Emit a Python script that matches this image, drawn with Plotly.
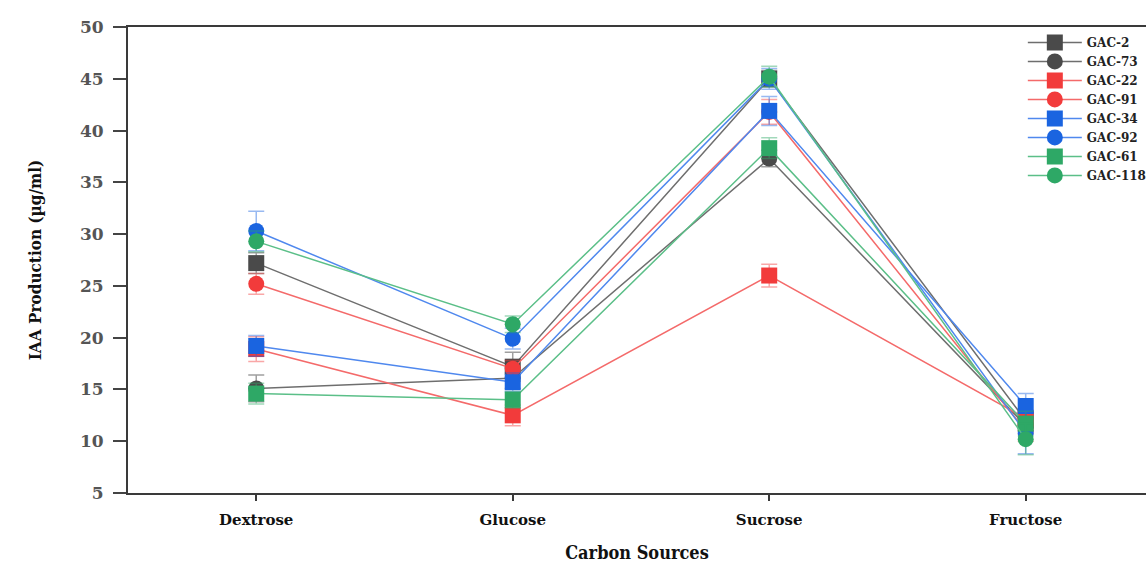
import plotly.graph_objects as go

categories = ["Dextrose", "Glucose", "Sucrose", "Fructose"]
series_names = ["GAC-2", "GAC-73", "GAC-22", "GAC-91", "GAC-34", "GAC-92", "GAC-61", "GAC-118"]

gac2 = [27.2, 17.2, 45.0, 12.0]
gac73 = [15.1, 16.1, 37.3, 11.5]
gac22 = [18.9, 12.5, 26.0, 12.2]
gac91 = [25.2, 17.0, 41.8, 11.0]
gac34 = [19.2, 15.7, 41.9, 13.4]
gac92 = [30.3, 19.9, 45.0, 10.8]
gac61 = [14.6, 14.0, 38.3, 11.7]
gac118 = [29.3, 21.3, 45.2, 10.2]

err2 = [1.0, 1.4, 0.8, 0.8]
err73 = [1.3, 1.0, 0.8, 0.8]
err22 = [1.2, 1.0, 1.1, 0.8]
err91 = [1.0, 0.8, 1.2, 1.0]
err34 = [1.0, 0.9, 1.4, 1.2]
err92 = [1.9, 1.0, 1.0, 2.0]
err61 = [1.0, 0.8, 1.0, 1.2]
err118 = [1.0, 0.8, 1.0, 1.5]

values = [gac2, gac73, gac22, gac91, gac34, gac92, gac61, gac118]
errors = [err2, err73, err22, err91, err34, err92, err61, err118]

marker_colors = {"gray": "#4a4a4a", "red": "#f23b3b", "blue": "#1a64e0", "green": "#2ea866"}
line_colors = {"gray": "#6e6e6e", "red": "#f46a6a", "blue": "#4f88ee", "green": "#5bbf88"}
err_colors = {"gray": "rgba(80,80,80,0.55)", "red": "rgba(242,59,59,0.45)",
              "blue": "rgba(26,100,224,0.45)", "green": "rgba(46,168,102,0.45)"}
color_keys = ["gray", "gray", "red", "red", "blue", "blue", "green", "green"]
symbols = ["square", "circle"] * 4

fig = go.Figure()
for name, vals, errs, ck, sym in zip(series_names, values, errors, color_keys, symbols):
    fig.add_trace(go.Scatter(
        x=list(range(len(categories))), y=vals, name=name, mode="lines+markers",
        line=dict(color=line_colors[ck], width=1.5),
        marker=dict(symbol=sym, size=16, color=marker_colors[ck], line=dict(width=0)),
        error_y=dict(type="data", array=errs, visible=True, color=err_colors[ck],
                     thickness=1.5, width=8),
    ))

serif = "DejaVu Serif"
fig.update_layout(
    width=1146, height=563,
    margin=dict(l=128, r=0, t=27, b=70, autoexpand=False),
    paper_bgcolor="white", plot_bgcolor="white",
    showlegend=True,
    legend=dict(x=0.879, xanchor="left", y=0.998, yanchor="top",
                font=dict(family=serif, size=12, color="#222", weight="bold"),
                bgcolor="rgba(255,255,255,0)", tracegroupgap=0, itemwidth=54),
    xaxis=dict(
        range=[-0.5, 3.469], tickmode="array", tickvals=list(range(len(categories))),
        ticktext=categories, showgrid=False, zeroline=False,
        showline=True, linecolor="#3a3a3a", linewidth=2, mirror=True,
        ticks="outside", ticklen=6, tickwidth=2, tickcolor="#3a3a3a",
        ticklabelstandoff=6,
        tickfont=dict(family=serif, size=15, color="#111", weight="bold"),
        title=dict(text="Carbon Sources", standoff=22,
                   font=dict(family="DejaVu Serif Condensed, " + serif, size=18, color="#111", weight="bold")),
    ),
    yaxis=dict(
        range=[5, 50], dtick=5, tick0=5, showgrid=False, zeroline=False,
        showline=True, linecolor="#3a3a3a", linewidth=2,
        ticks="outside", ticklen=13, tickwidth=1.5, tickcolor="#444",
        ticklabelstandoff=6,
        tickfont=dict(family=serif, size=17, color="#555", weight="bold"),
        title=dict(text="IAA Production (µg/ml)", standoff=34,
                   font=dict(family="DejaVu Serif Condensed, " + serif, size=17, color="#111", weight="bold")),
    ),
)

fig.write_html("out.html")
